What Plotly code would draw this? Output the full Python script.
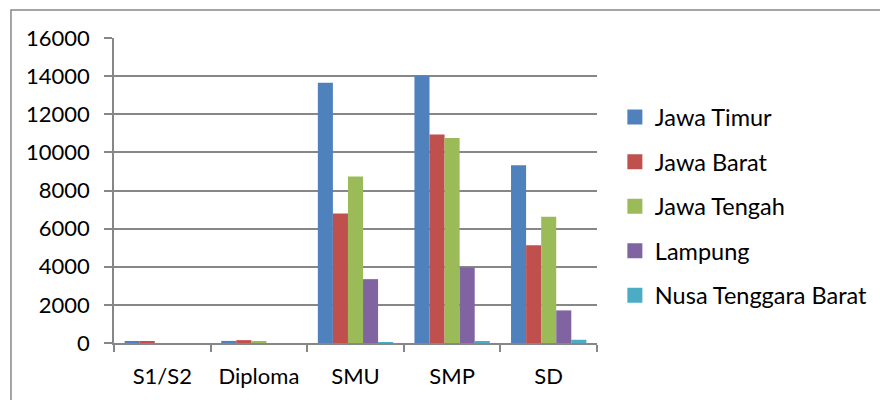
import plotly.graph_objects as go

# Education levels and regional counts
categories = ["S1/S2", "Diploma", "SMU", "SMP", "SD"]
jawa_timur = [70, 110, 13650, 14030, 9320]
jawa_barat = [70, 150, 6790, 10940, 5130]
jawa_tengah = [0, 100, 8740, 10760, 6620]
lampung = [0, 0, 3350, 3960, 1710]
ntb = [0, 0, 30, 60, 170]

series_names = ["Jawa Timur", "Jawa Barat", "Jawa Tengah", "Lampung", "Nusa Tenggara Barat"]
series_values = [jawa_timur, jawa_barat, jawa_tengah, lampung, ntb]
colors = ["#4F81BD", "#C0504D", "#9BBB59", "#8064A2", "#4BACC6"]
y_ticks = [0, 2000, 4000, 6000, 8000, 10000, 12000, 14000, 16000]

FONT = "Lato"
GRAY = "#878787"

fig = go.Figure()
for name, vals, col in zip(series_names, series_values, colors):
    fig.add_trace(go.Bar(x=categories, y=vals, name=name, marker_color=col,
                         marker_line_width=0, showlegend=False))
# legend entries with larger square keys
for i, (name, col) in enumerate(zip(series_names, colors)):
    fig.add_trace(go.Scatter(x=[None], y=[None], mode="markers", name=name,
                             legendgroup=f"g{i}",
                             marker=dict(symbol="square", size=15, color=col)))

fig.update_layout(
    width=880, height=400,
    margin=dict(l=114, r=283, t=38, b=57, autoexpand=False),
    paper_bgcolor="white", plot_bgcolor="white",
    barmode="group", bargap=0.22, bargroupgap=0,
    font=dict(family=FONT, size=22, color="#000000"),
    legend=dict(x=1.037, y=0.812, xanchor="left", yanchor="top",
                font=dict(family=FONT, size=23.5), tracegroupgap=11,
                itemwidth=30, bgcolor="rgba(0,0,0,0)"),
    shapes=[dict(type="rect", xref="paper", yref="paper",
                 x0=-0.2133, x1=1.60, y0=-0.25, y1=1.0918,
                 line=dict(color=GRAY, width=1.5), layer="below")],
)
fig.update_xaxes(showline=True, linecolor=GRAY, linewidth=1.5,
                 ticks="outside", tickson="boundaries", ticklen=7,
                 tickcolor=GRAY, tickwidth=1.5, showgrid=False,
                 tickfont=dict(family=FONT, size=22), ticklabelstandoff=13)
fig.update_yaxes(range=[0, 16000], tickvals=y_ticks,
                 ticktext=[str(v) for v in y_ticks], showline=True,
                 linecolor=GRAY, linewidth=1.5, ticks="outside", ticklen=8,
                 tickcolor=GRAY, tickwidth=1.5, showgrid=True,
                 gridcolor=GRAY, gridwidth=1.5, zeroline=False,
                 tickfont=dict(family=FONT, size=22), ticklabelstandoff=10)

fig.write_html("out.html")
